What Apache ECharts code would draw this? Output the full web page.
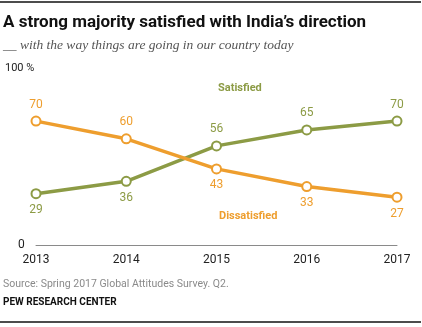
<!DOCTYPE html>
<html><head><meta charset="utf-8">
<script src="https://cdn.jsdelivr.net/npm/echarts@6/dist/echarts.min.js"></script>
<style>html,body{margin:0;padding:0;background:#fff}#c{width:422px;height:327px}</style>
</head><body><div id="c"></div>
<script>
const years = ['2013','2014','2015','2016','2017'];
const satisfied = [29, 36, 56, 65, 70];
const dissatisfied = [70, 60, 43, 33, 27];
const satisfiedLabelPos = ['bottom','bottom','top','top','top'];
const dissatisfiedLabelPos = ['top','top','bottom','bottom','bottom'];
const yTicks = [0, 100];

const GREEN = '#8C9B45', ORANGE = '#EE9E2E';
const chart = echarts.init(document.getElementById('c'));
function mk(vals, pos) {
  return vals.map((v, i) => ({value: v, label: {position: pos[i]}}));
}
chart.setOption({
  animation: false,
  grid: {left: 36, right: 25, top: 68, bottom: 82},
  xAxis: {
    type: 'category', data: years, boundaryGap: false,
    axisLine: {lineStyle: {color: '#8a8a8a', width: 1}},
    axisTick: {show: false},
    axisLabel: {color: '#222', fontSize: 12, margin: 9, fontFamily: 'Roboto'}
  },
  yAxis: {
    type: 'value', min: yTicks[0], max: yTicks[1], interval: 100,
    splitLine: {show: false}, axisLine: {show: false}, axisTick: {show: false},
    axisLabel: {
      align: 'left', margin: 31, fontFamily: 'Roboto', fontSize: 11, color: '#222',
      formatter: v => v === 100 ? '{a|100 %}' : '{b|' + v + '}',
      rich: {a: {fontSize: 11, color: '#222', fontFamily: 'Roboto'}, b: {fontSize: 12, color: '#222', padding: [0,0,0,13], fontFamily: 'Roboto'}}
    }
  },
  series: [
    {type: 'line', name: 'Satisfied', data: mk(satisfied, satisfiedLabelPos), color: GREEN,
     symbol: 'circle', symbolSize: 9, lineStyle: {width: 3.5, color: GREEN},
     itemStyle: {color: '#fff', borderColor: GREEN, borderWidth: 2},
     label: {show: true, color: GREEN, fontSize: 12, fontFamily: 'Roboto', distance: 5}},
    {type: 'line', name: 'Dissatisfied', data: mk(dissatisfied, dissatisfiedLabelPos), color: ORANGE,
     symbol: 'circle', symbolSize: 9, lineStyle: {width: 3.5, color: ORANGE},
     itemStyle: {color: '#fff', borderColor: ORANGE, borderWidth: 2},
     label: {show: true, color: ORANGE, fontSize: 12, fontFamily: 'Roboto', distance: 5}}
  ],
  graphic: [
    {type: 'line', shape: {x1: 0, y1: 2, x2: 421, y2: 2}, style: {stroke: '#111', lineWidth: 1.5}},
    {type: 'text', left: 3, top: 14, style: {text: 'A strong majority satisfied with India\u2019s direction', font: 'bold 17px Roboto', fill: '#111'}},
    {type: 'text', left: 3, top: 38, style: {text: '__ with the way things are going in our country today', font: 'italic 13.5px "Liberation Serif"', fill: '#555'}},
    {type: 'text', left: 218, top: 83, style: {text: 'Satisfied', font: 'bold 11px Roboto', fill: GREEN}},
    {type: 'text', left: 219, top: 211, style: {text: 'Dissatisfied', font: 'bold 11px Roboto', fill: ORANGE}},
    {type: 'text', left: 3, top: 279, style: {text: 'Source: Spring 2017 Global Attitudes Survey. Q2.', font: '10.5px Roboto', fill: '#8a8a8a'}},
    {type: 'text', left: 3, top: 297, style: {text: 'PEW RESEARCH CENTER', font: 'bold 10px Roboto', fill: '#111'}},
    {type: 'line', shape: {x1: 0, y1: 322, x2: 421, y2: 322}, style: {stroke: '#111', lineWidth: 1.5}}
  ]
});
</script></body></html>
